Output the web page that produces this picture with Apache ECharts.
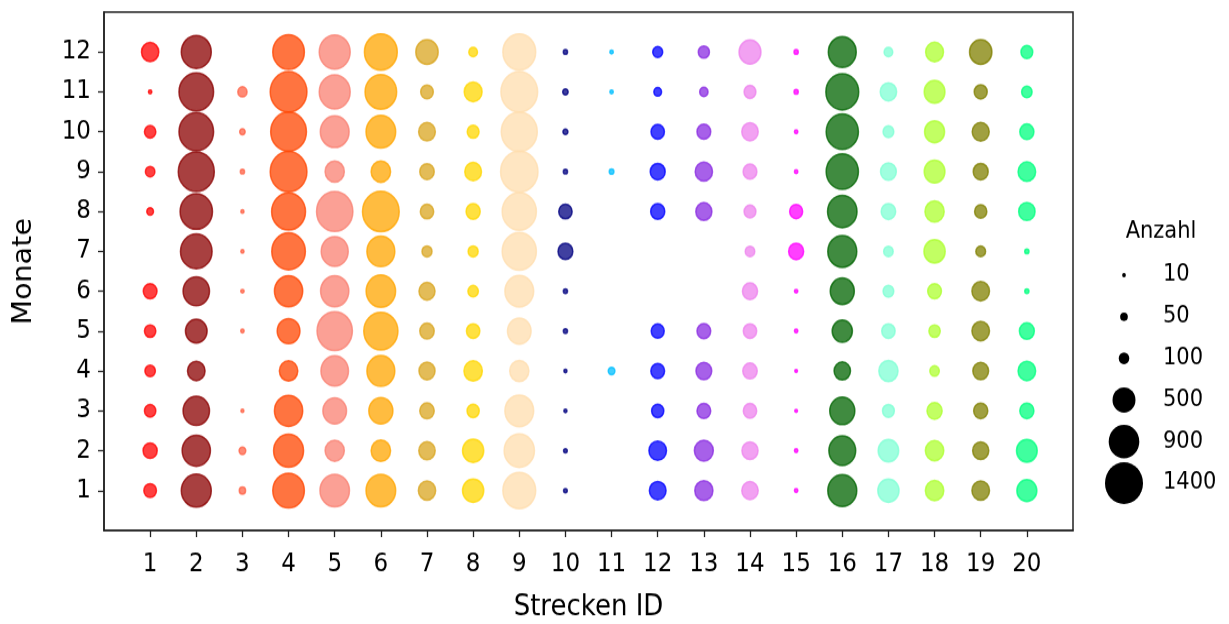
<!DOCTYPE html>
<html>
<head>
<meta charset="utf-8">
<script src="https://cdn.jsdelivr.net/npm/echarts@6/dist/echarts.min.js"></script>
<style>
html,body{margin:0;padding:0;background:#fff;width:1229px;height:624px;}
#chart{width:1229px;height:567px;transform:scaleY(1.1005);transform-origin:0 0;}
</style>
</head>
<body>
<div id="chart"></div>
<script>
// Strecken IDs (x) and Monate (y)
const strecken = [1,2,3,4,5,6,7,8,9,10,11,12,13,14,15,16,17,18,19,20];
const monate = [1,2,3,4,5,6,7,8,9,10,11,12];
// Anzahl per Strecke, months 1..12 (null = no point)
const s1  = [160, 200, 130, 110, 130, 190, null, 45, 90, 130, 12, 300];
const s2  = [900, 800, 700, 310, 470, 700, 1000, 1050, 1300, 1200, 1200, 900];
const s3  = [40, 45, 9, null, 12, 12, 10, 10, 18, 30, 85, null];
const s4  = [1000, 900, 800, 340, 520, 800, 1130, 1150, 1350, 1280, 1350, 1000];
const s5  = [870, 370, 560, 760, 1250, 800, 730, 1320, 370, 830, 960, 960];
const s6  = [880, 380, 580, 780, 1170, 870, 780, 1350, 380, 880, 1000, 1080];
const s7  = [300, 270, 210, 260, 210, 260, 100, 180, 210, 280, 160, 500];
const s8  = [450, 450, 150, 340, 180, 110, 100, 200, 280, 140, 320, 75];
const s9  = [1080, 920, 830, 370, 560, 830, 1170, 1170, 1400, 1300, 1350, 1080];
const s10 = [14, 14, 10, 10, 18, 18, 220, 180, 18, 25, 30, 18];
const s11 = [null, null, null, 45, null, null, null, null, 22, null, 12, 12];
const s12 = [280, 310, 150, 190, 170, null, null, 200, 225, 180, 60, 100];
const s13 = [330, 360, 190, 250, 190, null, null, 260, 300, 190, 70, 125];
const s14 = [270, 260, 180, 210, 180, 230, 90, 140, 190, 270, 140, 480];
const s15 = [12, 12, 8, 8, 12, 12, 225, 170, 12, 12, 18, 18];
const s16 = [840, 720, 630, 270, 410, 580, 840, 870, 1040, 1040, 1080, 780];
const s17 = [450, 420, 140, 370, 180, 115, 90, 210, 250, 115, 270, 75];
const s18 = [340, 340, 230, 90, 130, 190, 450, 370, 430, 400, 430, 320];
const s19 = [310, 260, 200, 250, 310, 310, 95, 150, 225, 290, 170, 500];
const s20 = [400, 430, 200, 310, 225, 18, 18, 270, 310, 200, 110, 140];
const werte = [s1,s2,s3,s4,s5,s6,s7,s8,s9,s10,s11,s12,s13,s14,s15,s16,s17,s18,s19,s20];
const farben = ['#FF0000','#8B0000','#FF6347','#FF4500','#FA8072','#FFA500','#DAA520','#FFD700','#FFDEAD','#000080',
                '#00BFFF','#0000FF','#8A2BE2','#EE82EE','#FF00FF','#006400','#7FFFD4','#ADFF2F','#808000','#00FF7F'];
// Legend and axis titles
const legendWerte = [10, 50, 100, 500, 900, 1400];
const legendTitel = 'Anzahl';
const xTitel = 'Strecken ID';
const yTitel = 'Monate';

const FONT = 'DejaVu Sans';
const series = strecken.map((id, k) => ({
  type: 'scatter',
  name: String(id),
  data: monate.map((m, i) => werte[k][i] == null ? null : [id, m, werte[k][i]]).filter(d => d),
  symbolSize: d => Math.sqrt(d[2]),
  itemStyle: {color: farben[k], opacity: 0.75, borderColor: farben[k], borderWidth: 1.5},
  emphasis: {disabled: true},
  silent: true
}));

const graphics = [];
graphics.push({
  type: 'text', x: 1161, y: 211,
  style: {text: legendTitel, font: '21px "' + FONT + '"', fill: '#000', align: 'center', verticalAlign: 'middle'}
});
legendWerte.forEach((v, i) => {
  const cy = 250 + i * 37.8;
  graphics.push({type: 'circle', shape: {cx: 1124, cy: cy, r: Math.sqrt(v) / 2 + 0.3}, style: {fill: '#000'}});
  graphics.push({type: 'text', x: 1163, y: cy,
    style: {text: String(v), font: '21px "' + FONT + '"', fill: '#000', align: 'left', verticalAlign: 'middle'}});
});

const chart = echarts.init(document.getElementById('chart'), null, {renderer: 'canvas'});
chart.setOption({
  animation: false,
  backgroundColor: '#fff',
  grid: {left: 104, right: 156, top: 11, bottom: 85, show: true, borderColor: '#222', borderWidth: 1.5,
         containLabel: false, outerBoundsMode: 'none'},
  xAxis: {
    type: 'value', min: 0, max: 21, interval: 1,
    name: xTitel, nameLocation: 'middle', nameGap: 70, nameMoveOverlap: false,
    nameTextStyle: {fontFamily: FONT, fontSize: 26, color: '#000', verticalAlign: 'middle'},
    axisLine: {show: true, onZero: false, lineStyle: {color: '#222', width: 1.5}},
    axisTick: {show: true, length: 6, lineStyle: {color: '#222', width: 1.3}, customValues: strecken},
    axisLabel: {fontFamily: FONT, fontSize: 23, color: '#000', margin: 20, customValues: strecken},
    splitLine: {show: false}
  },
  yAxis: {
    type: 'value', min: 0, max: 13, interval: 1,
    name: yTitel, nameLocation: 'middle', nameGap: 80, nameMoveOverlap: false,
    nameTextStyle: {fontFamily: FONT, fontSize: 26, color: '#000', verticalAlign: 'middle'},
    axisLine: {show: true, onZero: false, lineStyle: {color: '#222', width: 1.5}},
    axisTick: {show: true, length: 6, lineStyle: {color: '#222', width: 1.3}, customValues: monate},
    axisLabel: {fontFamily: FONT, fontSize: 23, color: '#000', margin: 13, customValues: monate},
    splitLine: {show: false}
  },
  graphic: graphics,
  series: series
});
</script>
</body>
</html>
